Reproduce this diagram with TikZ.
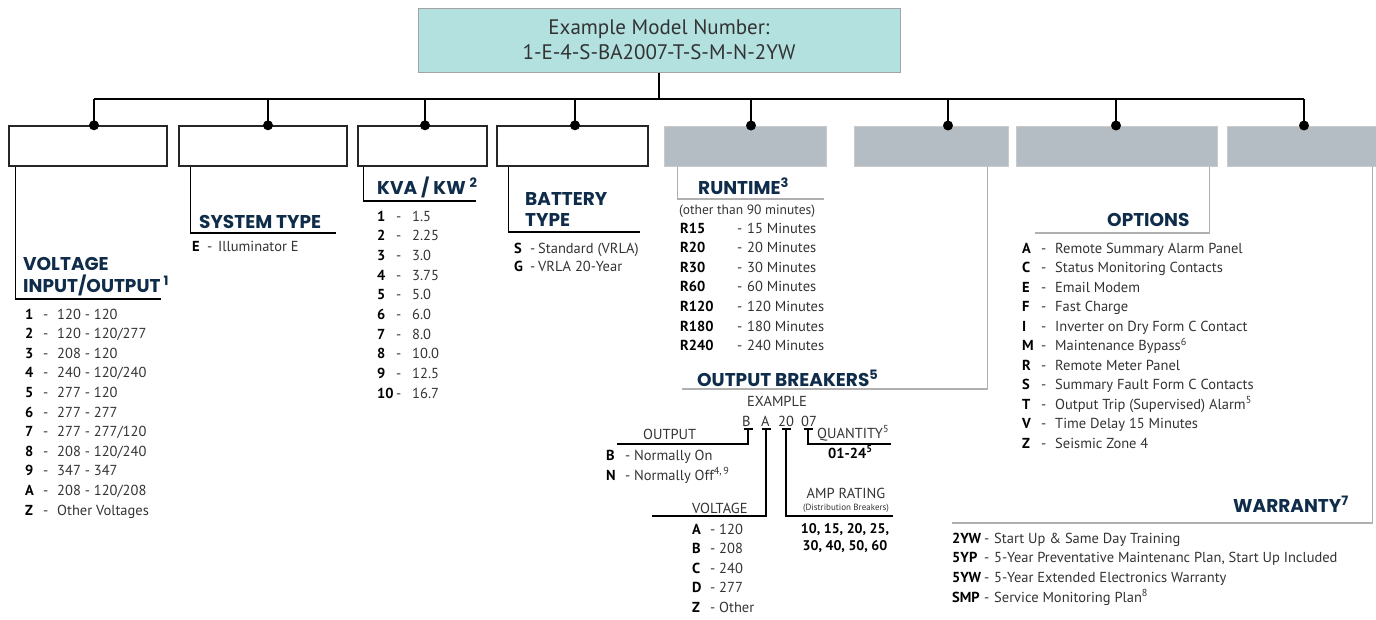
\documentclass[tikz,border=0pt]{standalone}
\usepackage{fontspec}
\setmainfont{PT Sans}
\newfontfamily\hdfont{Poppins}
\usetikzlibrary{calc}
\definecolor{navy}{HTML}{0F2D4A}
\definecolor{boxgray}{HTML}{B5BDC4}
\definecolor{boxedge}{HTML}{C8CACC}
\definecolor{leadgray}{HTML}{B0B0B0}
\definecolor{topfill}{HTML}{B2E1E0}
\definecolor{topedge}{HTML}{A3A3A3}
\definecolor{txtgray}{HTML}{333333}
\begin{document}
\begin{tikzpicture}[x=1pt,y=-1pt,
  wbox/.style={draw=black!85, line width=1.4pt, fill=white, minimum width=#1, minimum height=40pt, inner sep=0pt},
  gbox/.style={draw=boxedge, line width=1pt, fill=boxgray, minimum width=#1, minimum height=40pt, inner sep=0pt},
  topbox/.style={draw=topedge, line width=1pt, fill=topfill, minimum width=482pt, minimum height=64pt, align=center, text=txtgray, font=\fontsize{21}{25}\selectfont},
  conn/.style={draw=black, line width=1.4pt},
  blead/.style={draw=black, line width=1.4pt},
  glead/.style={draw=leadgray, line width=1.2pt},
  brk/.style={draw=black, line width=1.2pt},
  jdot/.style={circle, fill=black, inner sep=0pt, minimum width=9pt, minimum height=10pt},
  headtxt/.style={anchor=base west, inner sep=0pt, text=navy, font=\hdfont\bfseries\fontsize{18.5}{20}\selectfont},
  txt/.style={anchor=base west, inner sep=0pt, text=txtgray, font=\fontsize{14.5}{17}\selectfont},
  codetxt/.style={anchor=base west, inner sep=0pt, text=black, font=\bfseries\fontsize{14.5}{17}\selectfont},
  boldtxt/.style={anchor=base, inner sep=0pt, text=black, font=\bfseries\fontsize{14}{17}\selectfont},
  smalltxt/.style={anchor=base, inner sep=0pt, text=txtgray, font=\fontsize{9}{10}\selectfont}
]
\useasboundingbox (0,0) rectangle (1376,619);

% ---------- top box and bus ----------
\node[topbox] (top) at (659,40) {Example Model Number:\\1-E-4-S-BA2007-T-S-M-N-2YW};

\node[wbox=158pt] (b1) at (88,146) {};
\node[wbox=168pt] (b2) at (263,146) {};
\node[wbox=129pt] (b3) at (422.5,146) {};
\node[wbox=151pt] (b4) at (572.5,146) {};
\node[gbox=162pt] (b5) at (745,146) {};
\node[gbox=154pt] (b6) at (931,146) {};
\node[gbox=201pt] (b7) at (1116.5,146) {};
\node[gbox=150pt] (b8) at (1302,146) {};

\coordinate (j) at (659,99);
\coordinate (d1) at (94,99);
\coordinate (d2) at (268,99);
\coordinate (d3) at (425,99);
\coordinate (d4) at (575,99);
\coordinate (d5) at (751,99);
\coordinate (d6) at (948,99);
\coordinate (d7) at (1116,99);
\coordinate (d8) at (1304,99);

\draw[conn] (top.south -| j) -- (j);
\draw[conn] (d1) -- (d8);
\foreach \i in {1,...,8}{
  \draw[conn] (d\i) -- (d\i |- b\i.north);
  \node[jdot] at (d\i |- b\i.north) {};
}

% ---------- leader end points ----------
\coordinate (e1) at (161,299);
\coordinate (e2) at (336,233);
\coordinate (e3) at (476,201);
\coordinate (e4) at (640,232);
\coordinate (e5) at (824,199);
\coordinate (e6) at (682,389);
\coordinate (e7) at (1035,233);
\coordinate (e8) at (952,523);

\draw[blead] ([xshift=7pt]b1.south west) |- (e1);
\draw[blead] ([xshift=12pt]b2.south west) |- (e2);
\draw[blead] ([xshift=6pt]b3.south west) |- (e3);
\draw[blead] ([xshift=12pt]b4.south west) |- (e4);
\draw[glead] ([xshift=14pt]b5.south west) |- (e5);
\draw[glead] ([xshift=-21pt]b6.south east) |- (e6);
\draw[glead] ([xshift=-8pt]b7.south east) |- (e7);
\draw[glead] ([xshift=-5pt]b8.south east) |- (e8);

% ---------- VOLTAGE INPUT/OUTPUT ----------
\node[headtxt] (h1a) at (23,270) {VOLTAGE};
\node[headtxt] (h1b) at (23,292) {INPUT/OUTPUT\,\textsuperscript{1}};
\foreach \c/\v [count=\k from 0] in {1/{120 - 120},2/{120 - 120/277},3/{208 - 120},4/{240 - 120/240},5/{277 - 120},6/{277 - 277},7/{277 - 277/120},8/{208 - 120/240},9/{347 - 347},A/{208 - 120/208},Z/{Other Voltages}}{
  \node[codetxt] at (25,{319+19.6*\k}) {\c};
  \node[txt] at (43,{319+19.6*\k}) {-};
  \node[txt] at (57,{319+19.6*\k}) {\v};
}

% ---------- SYSTEM TYPE ----------
\node[headtxt] (h2) at (199,228) {SYSTEM TYPE};
\node[codetxt] at (192,251) {E};
\node[txt] at (207,251) {-};
\node[txt] at (218,251) {Illuminator E};

% ---------- KVA / KW ----------
\node[headtxt] (h3) at (377,194) {KVA / KW \textsuperscript{2}};
\foreach \c/\v [count=\k from 0] in {1/1.5,2/2.25,3/3.0,4/3.75,5/5.0,6/6.0,7/8.0,8/10.0,9/12.5,10/16.7}{
  \node[codetxt] at (377,{221+19.7*\k}) {\c};
  \node[txt] at (396,{221+19.7*\k}) {-};
  \node[txt] at (412,{221+19.7*\k}) {\v};
}

% ---------- BATTERY TYPE ----------
\node[headtxt] (h4a) at (525,205) {BATTERY};
\node[headtxt] (h4b) at (525,226) {TYPE};
\node[codetxt] at (514,253) {S};
\node[txt] at (530,253) {-};
\node[txt] at (538,253) {Standard (VRLA)};
\node[codetxt] at (514,271) {G};
\node[txt] at (530,271) {-};
\node[txt] at (538,271) {VRLA 20-Year};

% ---------- RUNTIME ----------
\node[headtxt] (h5) at (698,194) {RUNTIME\textsuperscript{3}};
\node[txt, font=\fontsize{13.5}{16}\selectfont] at (679,214) {(other than 90 minutes)};
\foreach \c/\v [count=\k from 0] in {R15/15 Minutes,R20/20 Minutes,R30/30 Minutes,R60/60 Minutes,R120/120 Minutes,R180/180 Minutes,R240/240 Minutes}{
  \node[codetxt] at (680,{233+19.6*\k}) {\c};
  \node[txt] at (737,{233+19.6*\k}) {-};
  \node[txt] at (747,{233+19.6*\k}) {\v};
}

% ---------- OUTPUT BREAKERS ----------
\node[headtxt] (h6) at (697,386) {OUTPUT BREAKERS\textsuperscript{5}};
\node[txt] (ex) at (747,406) {EXAMPLE};
\node[txt] (xB) at (742,426) {B};
\node[txt] (xA) at (761,426) {A};
\node[txt] (x20) at (778,426) {20};
\node[txt] (x07) at (801,426) {07};

\coordinate (tB) at (748,429);
\coordinate (tA) at (766,429);
\coordinate (t20) at (786,429);
\coordinate (t07) at (808,429);
\coordinate (oOut) at (617,444);
\coordinate (oVolt) at (652,516);
\coordinate (oAmp) at (893,516);
\coordinate (oQty) at (891,444);
\foreach \t in {tB,tA,t20,t07}{
  \draw[brk] ([xshift=-4.5pt]\t) -- ([xshift=4.5pt]\t);
}
\draw[brk] (tB) |- (oOut);
\draw[brk] (tA) |- (oVolt);
\draw[brk] (t20) |- (oAmp);
\draw[brk] (t07) |- (oQty);

\node[txt] (lOut) at (643,439) {OUTPUT};
\node[codetxt] at (606,460) {B};
\node[txt] at (625,460) {-};
\node[txt] at (634,460) {Normally On};
\node[codetxt] at (606,480) {N};
\node[txt] at (625,480) {-};
\node[txt] at (634,480) {Normally Off\textsuperscript{4,\,9}};

\node[txt] (lVolt) at (692,513) {VOLTAGE};
\foreach \c/\v [count=\k from 0] in {A/120,B/208,C/240,D/277,Z/Other}{
  \node[codetxt] at (692,{534+19.6*\k}) {\c};
  \node[txt] at (710,{534+19.6*\k}) {-};
  \node[txt] at (719,{534+19.6*\k}) {\v};
}

\node[txt] (lQty) at (817,438) {QUANTITY\textsuperscript{5}};
\node[codetxt] at (828,458) {01-24\textsuperscript{5}};

\node[txt, anchor=base] (lAmp) at (846,498) {AMP RATING};
\node[smalltxt] at (846,510) {(Distribution Breakers)};
\node[boldtxt] at (845,533) {10, 15, 20, 25,};
\node[boldtxt] at (845,550) {30, 40, 50, 60};

% ---------- OPTIONS ----------
\node[headtxt] (h7) at (1107,226) {OPTIONS};
\foreach \c/\v [count=\k from 0] in {A/Remote Summary Alarm Panel,C/Status Monitoring Contacts,E/Email Modem,F/Fast Charge,I/Inverter on Dry Form C Contact,M/{Maintenance Bypass\textsuperscript{6}},R/Remote Meter Panel,S/Summary Fault Form C Contacts,T/{Output Trip (Supervised) Alarm\textsuperscript{5}},V/Time Delay 15 Minutes,Z/Seismic Zone 4}{
  \node[codetxt] at (1022,{253+19.5*\k}) {\c};
  \node[txt] at (1041,{253+19.5*\k}) {-};
  \node[txt] at (1055,{253+19.5*\k}) {\v};
}

% ---------- WARRANTY ----------
\node[headtxt] (h8) at (1233,512) {WARRANTY\textsuperscript{7}};
\foreach \c/\v [count=\k from 0] in {2YW/{Start Up \& Same Day Training},5YP/{5-Year Preventative Maintenanc Plan, Start Up Included},5YW/{5-Year Extended Electronics Warranty},SMP/{Service Monitoring Plan\textsuperscript{8}}}{
  \node[codetxt] at (952,{543+19.7*\k}) {\c};
  \node[txt] at (984,{543+19.7*\k}) {-};
  \node[txt] at (994,{543+19.7*\k}) {\v};
}
\end{tikzpicture}
\end{document}
